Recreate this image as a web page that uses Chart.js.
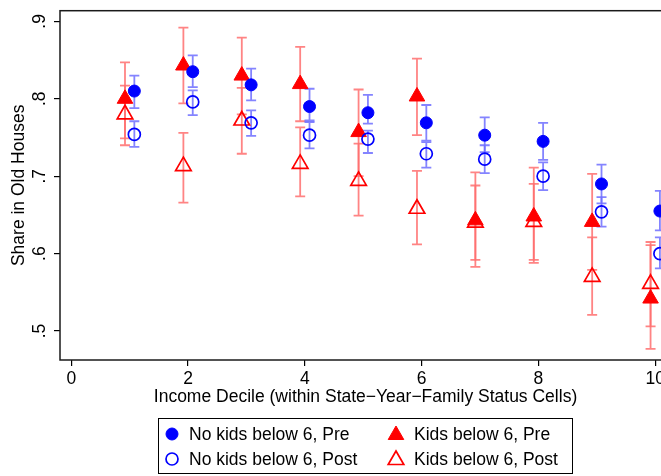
<!DOCTYPE html>
<html>
<head>
<meta charset="utf-8">
<script src="https://cdn.jsdelivr.net/npm/chart.js@4.4.1/dist/chart.umd.min.js"></script>
<style>
  html, body { margin: 0; padding: 0; background: #fff; overflow: hidden; }
  #wrap { width: 700px; height: 476px; }
</style>
</head>
<body>
<div id="wrap"><canvas id="chart" width="700" height="476"></canvas></div>
<script>
// data
const deciles = [1, 2, 3, 4, 5, 6, 7, 8, 9, 10];

const noKidsPre    = [0.810, 0.835, 0.818, 0.790, 0.782, 0.769, 0.753, 0.745, 0.690, 0.655];
const noKidsPreLo  = [0.788, 0.815, 0.798, 0.772, 0.768, 0.746, 0.731, 0.721, 0.665, 0.630];
const noKidsPreHi  = [0.830, 0.856, 0.839, 0.813, 0.805, 0.792, 0.776, 0.769, 0.715, 0.681];

const noKidsPost   = [0.754, 0.796, 0.769, 0.753, 0.748, 0.729, 0.722, 0.700, 0.654, 0.600];
const noKidsPostLo = [0.738, 0.779, 0.752, 0.736, 0.730, 0.711, 0.704, 0.682, 0.635, 0.581];
const noKidsPostHi = [0.771, 0.811, 0.785, 0.770, 0.759, 0.744, 0.740, 0.718, 0.673, 0.621];

const kidsPre      = [0.800, 0.843, 0.830, 0.819, 0.757, 0.803, 0.643, 0.648, 0.641, 0.542];
const kidsPreLo    = [0.749, 0.794, 0.780, 0.771, 0.700, 0.753, 0.583, 0.592, 0.579, 0.477];
const kidsPreHi    = [0.847, 0.892, 0.879, 0.867, 0.812, 0.852, 0.705, 0.711, 0.703, 0.615];

const kidsPost     = [0.780, 0.713, 0.772, 0.716, 0.694, 0.658, 0.640, 0.641, 0.570, 0.561];
const kidsPostLo   = [0.740, 0.666, 0.729, 0.674, 0.649, 0.612, 0.592, 0.588, 0.521, 0.506];
const kidsPostHi   = [0.817, 0.756, 0.814, 0.763, 0.742, 0.707, 0.688, 0.690, 0.621, 0.611];

const xTicks = [0, 2, 4, 6, 8, 10];
const yTicks = [0.5, 0.6, 0.7, 0.8, 0.9];
const yTickLabels = ['.5', '.6', '.7', '.8', '.9'];

const seriesNames = ['No kids below 6, Pre', 'No kids below 6, Post', 'Kids below 6, Pre', 'Kids below 6, Post'];
const xTitle = 'Income Decile (within State\u2212Year\u2212Family Status Cells)';
const yTitle = 'Share in Old Houses';

const FONT = '"Liberation Sans", Arial, Helvetica, sans-serif';
const FSIZE = 17.5;
const BLUE = '#0000ff';
const RED = '#ff0000';
const BLUE_CI = 'rgba(110,110,255,0.85)';
const RED_CI = 'rgba(255,110,110,0.85)';

// small horizontal dodge so the groups sit side by side
const SHIFT = 0.08;

function pts(vals, shift) {
    return deciles.map((d, i) => ({ x: d + shift, y: vals[i] }));
}

const errorSets = [
    { lo: kidsPostLo, hi: kidsPostHi, shift: -SHIFT, color: RED_CI },
    { lo: kidsPreLo, hi: kidsPreHi, shift: -SHIFT, color: RED_CI },
    { lo: noKidsPostLo, hi: noKidsPostHi, shift: SHIFT, color: BLUE_CI },
    { lo: noKidsPreLo, hi: noKidsPreHi, shift: SHIFT, color: BLUE_CI }
];

const markerStyles = [
    { pointStyle: 'circle', radius: 6, borderWidth: 1, fill: BLUE, stroke: BLUE },
    { pointStyle: 'circle', radius: 6, borderWidth: 1.7, fill: 'rgba(0,0,0,0)', stroke: BLUE },
    { pointStyle: 'triangle', radius: 9, borderWidth: 1, fill: RED, stroke: RED },
    { pointStyle: 'triangle', radius: 9, borderWidth: 1.7, fill: 'rgba(0,0,0,0)', stroke: RED }
];

// error bars, drawn under the markers
const errorBars = {
    id: 'errorBars',
    beforeDatasetsDraw(chart) {
        const ctx = chart.ctx;
        const xs = chart.scales.x, ys = chart.scales.y;
        ctx.save();
        ctx.lineWidth = 1.8;
        errorSets.forEach(s => {
            ctx.strokeStyle = s.color;
            deciles.forEach((d, i) => {
                const px = xs.getPixelForValue(d + s.shift);
                const y1 = ys.getPixelForValue(s.lo[i]);
                const y2 = ys.getPixelForValue(s.hi[i]);
                ctx.beginPath();
                ctx.moveTo(px, y1); ctx.lineTo(px, y2);
                ctx.moveTo(px - 5, y1); ctx.lineTo(px + 5, y1);
                ctx.moveTo(px - 5, y2); ctx.lineTo(px + 5, y2);
                ctx.stroke();
            });
        });
        ctx.restore();
    }
};

// frame, rotated y labels, axis titles and the boxed legend
const decorations = {
    id: 'decorations',
    afterDraw(chart) {
        const ctx = chart.ctx;
        const a = chart.chartArea;
        const ys = chart.scales.y;
        ctx.save();
        ctx.strokeStyle = '#1a1a1a';
        ctx.lineWidth = 1.5;
        ctx.strokeRect(a.left, a.top, a.right - a.left, a.bottom - a.top);

        ctx.fillStyle = '#000';
        ctx.font = FSIZE + 'px ' + FONT;
        ctx.textAlign = 'center';
        ctx.textBaseline = 'middle';
        yTicks.forEach((v, i) => {
            ctx.save();
            ctx.translate(40, ys.getPixelForValue(v));
            ctx.rotate(-Math.PI / 2);
            ctx.fillText(yTickLabels[i], 0, 0);
            ctx.restore();
        });

        ctx.save();
        ctx.translate(19, (a.top + a.bottom) / 2);
        ctx.rotate(-Math.PI / 2);
        ctx.fillText(yTitle, 0, 0);
        ctx.restore();

        ctx.fillText(xTitle, (a.left + a.right) / 2, 397);

        // legend
        ctx.lineWidth = 1;
        ctx.strokeStyle = '#000';
        ctx.strokeRect(158.5, 418.5, 414, 55);
        const cols = [172, 396];
        const rows = [434, 459];
        const order = [[0, 0, 0], [1, 0, 1], [2, 1, 0], [3, 1, 1]];
        ctx.textAlign = 'left';
        order.forEach(([k, c, r]) => {
            const m = markerStyles[k];
            ctx.fillStyle = m.fill;
            ctx.strokeStyle = m.stroke;
            ctx.lineWidth = m.borderWidth;
            Chart.helpers.drawPoint(ctx, {
                pointStyle: m.pointStyle,
                radius: m.radius,
                borderWidth: m.borderWidth,
                rotation: 0
            }, cols[c], rows[r] + (m.pointStyle === 'triangle' ? 1 : 0));
            ctx.fillStyle = '#000';
            ctx.fillText(seriesNames[k], c === 0 ? 189 : 414, rows[r] + 1);
        });
        ctx.restore();
    }
};

const datasets = [
    { label: seriesNames[0], data: pts(noKidsPre, SHIFT) },
    { label: seriesNames[1], data: pts(noKidsPost, SHIFT) },
    { label: seriesNames[2], data: pts(kidsPre, -SHIFT) },
    { label: seriesNames[3], data: pts(kidsPost, -SHIFT) }
].map((ds, k) => {
    const m = markerStyles[k];
    return Object.assign(ds, {
        pointStyle: m.pointStyle,
        pointRadius: m.radius,
        pointBorderWidth: m.borderWidth,
        pointBackgroundColor: m.fill,
        pointBorderColor: m.stroke,
        showLine: false
    });
});

new Chart(document.getElementById('chart'), {
    type: 'scatter',
    data: { datasets: datasets },
    options: {
        responsive: false,
        animation: false,
        events: [],
        layout: { padding: { top: 10, right: 29, left: 0, bottom: 0 } },
        plugins: {
            legend: { display: false },
            tooltip: { enabled: false }
        },
        scales: {
            x: {
                type: 'linear',
                min: -0.193,
                max: 10.27,
                afterBuildTicks: s => { s.ticks = xTicks.map(v => ({ value: v })); },
                afterFit: s => { s.height = 116; },
                border: { display: false },
                grid: { drawOnChartArea: false, drawTicks: true, tickLength: 6, color: '#000', lineWidth: 1.2 },
                ticks: {
                    color: '#000',
                    font: { family: FONT, size: FSIZE },
                    padding: 3,
                    maxRotation: 0,
                    autoSkip: false
                }
            },
            y: {
                type: 'linear',
                min: 0.4626,
                max: 0.9138,
                afterBuildTicks: s => { s.ticks = yTicks.map(v => ({ value: v })); },
                afterFit: s => { s.width = 60; },
                border: { display: false },
                grid: { drawOnChartArea: false, drawTicks: true, tickLength: 6, color: '#000', lineWidth: 1.2 },
                ticks: { display: false }
            }
        }
    },
    plugins: [errorBars, decorations]
});
</script>
</body>
</html>
